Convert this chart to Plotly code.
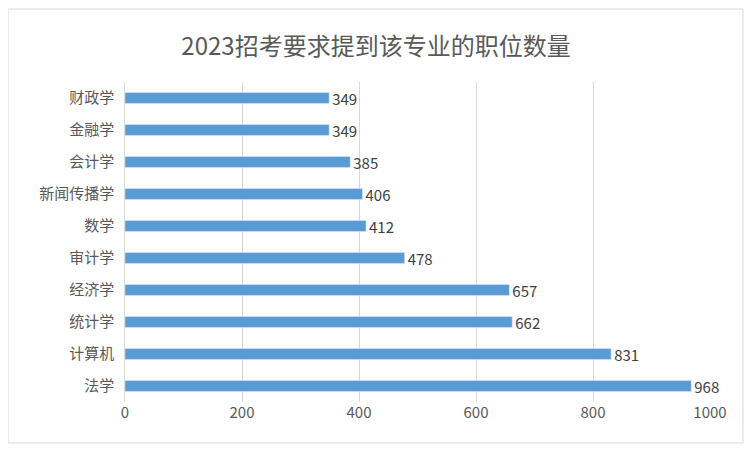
import plotly.graph_objects as go

# data (bottom to top)
majors = ['法学', '计算机', '统计学', '经济学', '审计学', '数学', '新闻传播学', '会计学', '金融学', '财政学']
counts = [968, 831, 662, 657, 478, 412, 406, 385, 349, 349]
x_ticks = [0, 200, 400, 600, 800, 1000]

font_family = "Microsoft YaHei, Noto Sans CJK SC, sans-serif"

fig = go.Figure(go.Bar(
    x=counts,
    y=majors,
    orientation='h',
    marker_color='#5B9BD5',
    text=counts,
    textposition='outside',
    constraintext='none',
    textfont=dict(size=15, color='#404040'),
    cliponaxis=False,
))

fig.update_layout(
    width=736, height=436,
    title=dict(text="2023招考要求提到该专业的职位数量", x=0.5, xanchor='center', y=0.93,
               font=dict(size=24, color='#595959', family=font_family)),
    font=dict(family=font_family, color='#595959', size=15),
    plot_bgcolor='white', paper_bgcolor='white',
    margin=dict(l=117, r=34, t=74, b=42),
    bargap=0.66,
    showlegend=False,
    xaxis=dict(range=[0, 1000], tickvals=x_ticks, showgrid=True, gridcolor='#D9D9D9',
               zeroline=False, showline=False, ticks='', tickfont=dict(size=15)),
    yaxis=dict(showgrid=False, showline=True, linecolor='#D9D9D9', ticks='',
               ticksuffix='  ', tickfont=dict(size=15)),
    shapes=[dict(type='rect', xref='paper', yref='paper', x0=-117/585, x1=1+33/585,
                 y0=-41/320, y1=1+73/320, line=dict(color='#D9D9D9', width=1))],
)

fig.write_html("out.html")
